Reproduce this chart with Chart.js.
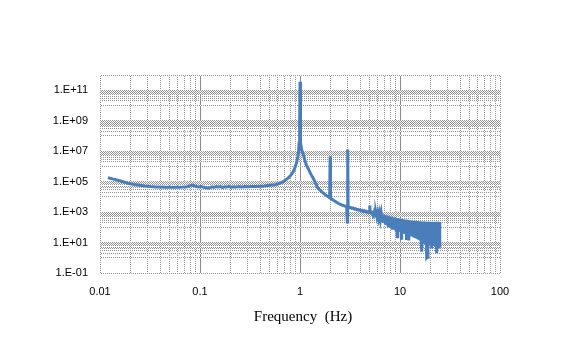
<!DOCTYPE html>
<html lang="en">
<head>
    <meta charset="UTF-8">
    <title>Frequency spectrum</title>
    <script src="https://cdn.jsdelivr.net/npm/chart.js"></script>
    <style>
        body { margin: 0; background: #ffffff; }
    </style>
</head>
<body>
    <canvas id="spectrum" width="577" height="346"></canvas>

    <script>
        // frequency (Hz) and amplitude of each spectrum point
        const freqHz = [
            0.012, 0.014, 0.016, 0.019, 0.022, 0.025, 0.028, 0.032, 0.036, 0.04,
            0.045, 0.05, 0.056, 0.062, 0.068, 0.074, 0.079, 0.083, 0.087, 0.092,
            0.097, 0.102, 0.107, 0.112, 0.117, 0.121, 0.126, 0.132, 0.138, 0.145,
            0.152, 0.16, 0.168, 0.176, 0.185, 0.195, 0.205, 0.215, 0.23, 0.245,
            0.26, 0.28, 0.3, 0.33, 0.36, 0.4, 0.44, 0.5, 0.56, 0.62,
            0.68, 0.72, 0.76, 0.8, 0.84, 0.87, 0.9, 0.93, 0.95, 0.96,
            0.97, 0.98, 0.99, 0.995, 1.0, 1.005, 1.01, 1.02, 1.04, 1.08,
            1.12, 1.16, 1.21, 1.28, 1.36, 1.43, 1.5, 1.6, 1.7, 1.8,
            1.9, 1.98, 2.0, 2.02, 2.2, 2.4, 2.6, 2.8, 2.93, 2.97,
            3.0, 3.03, 3.1, 3.2, 3.3, 3.4, 3.5, 3.6, 3.7, 3.8,
            3.9, 4.0, 4.1, 4.2, 4.3, 4.4, 4.5, 4.6, 4.7, 4.8,
            4.9, 4.97, 5.0, 5.03, 5.1,
            5.25, 5.375, 5.5, 5.625, 5.75, 5.875, 6.0, 6.125, 6.25, 6.375,
            6.5, 6.625, 6.75, 6.875, 7.0, 7.125, 7.25, 7.375, 7.5, 7.625,
            7.75, 7.875, 8.0, 8.125, 8.25, 8.375, 8.5, 8.625, 8.75, 8.875,
            9.0, 9.125, 9.25, 9.375, 9.5, 9.625, 9.75, 9.875, 10.0, 10.125,
            10.25, 10.375, 10.5, 10.625, 10.75, 10.875, 11.0, 11.125, 11.25, 11.375,
            11.5, 11.625, 11.75, 11.875, 12.0,
            12.25, 12.5, 12.75, 13, 13.25, 13.5, 13.75, 14, 14.25, 14.5,
            14.75, 15, 15.25, 15.5, 15.75, 16, 16.25, 16.5, 16.75, 17,
            17.25, 17.5, 17.75, 18, 18.25, 18.5, 18.75, 19, 19.25, 19.5,
            19.75, 20, 20.25, 20.5, 20.75, 21, 21.25, 21.5, 21.75, 22,
            22.25, 22.5, 22.75, 23, 23.25, 23.5, 23.75, 24, 24.25, 24.5,
            24.75, 25
        ];
        const amplitude = [
            1.8e5, 1.4e5, 1.1e5, 7.8e4, 6.5e4, 5.7e4, 5.1e4, 4.7e4, 4.5e4, 4.4e4,
            4.3e4, 4.3e4, 4.2e4, 4.3e4, 4.4e4, 4.6e4, 5.2e4, 6.0e4, 5.5e4, 4.8e4,
            4.5e4, 4.9e4, 4.4e4, 4.1e4, 3.9e4, 3.7e4, 4.0e4, 4.6e4, 4.2e4, 4.8e4,
            4.4e4, 4.7e4, 4.2e4, 4.6e4, 4.4e4, 4.9e4, 4.3e4, 4.6e4, 4.5e4, 4.8e4,
            4.5e4, 4.7e4, 4.6e4, 4.8e4, 4.7e4, 4.9e4, 5.1e4, 5.8e4, 6.3e4, 7.5e4,
            1.0e5, 1.3e5, 1.7e5, 2.4e5, 3.6e5, 5.5e5, 1.0e6, 2.0e6, 4.5e6, 8e6,
            1.5e7, 3.5e7, 1.5e8, 8e8, 3.6e11, 8e8, 1.5e8, 3.5e7, 1.2e7, 6e6,
            2.4e6, 1.2e6, 7e5, 3.2e5, 1.6e5, 8e4, 4e4, 2.6e4, 1.8e4, 1.35e4,
            1.05e4, 8.6e3, 4.6e6, 8.2e3, 5.5e3, 3.8e3, 3.0e3, 2.5e3, 2.3e3, 2.2e2,
            1.3e7, 2.0e3, 1.9e3, 2.05e3, 1.75e3, 1.85e3, 1.55e3, 1.65e3, 1.4e3, 1.5e3,
            1.3e3, 1.4e3, 1.2e3, 1.3e3, 1.1e3, 1.22e3, 1.05e3, 1.12e3, 980, 1.05e3,
            950, 1.0e3, 2.7e3, 950, 1.05e3,
            1000, 620, 980, 560, 930, 470, 880, 400, 820, 330,
            760, 260, 700, 200, 640, 160, 600, 140, 560, 120,
            530, 105, 500, 95, 480, 88, 460, 82, 440, 76,
            420, 70, 410, 24, 400, 62, 380, 55, 360, 50,
            350, 15, 340, 45, 330, 42, 320, 38, 315, 36,
            310, 15, 305, 33, 300,
            14, 290, 28, 280, 25, 270, 22, 265, 20, 260,
            18, 255, 16, 250, 14, 245, 12, 2.5, 240, 11,
            240, 10, 235, 9, 235, 1.0, 1.1, 235, 9, 232,
            8, 232, 7, 230, 4, 230, 7, 230, 6, 228,
            6, 228, 5, 228, 2, 228, 5, 226, 4, 226,
            6, 225
        ];

        // labelled ticks
        const xTickValues = [0.01, 0.1, 1, 10, 100];
        const xTickLabels = ['0.01', '0.1', '1', '10', '100'];
        const yTickValues = [0.1, 10, 1e3, 1e5, 1e7, 1e9, 1e11];
        const yTickLabels = ['1.E-01', '1.E+01', '1.E+03', '1.E+05', '1.E+07', '1.E+09', '1.E+11'];

        // x grid: every 1..9 step of each decade
        const xGrid = [];
        for (let e = -2; e <= 1; e++) {
            for (let k = 1; k <= 9; k++) xGrid.push(k * Math.pow(10, e));
        }
        xGrid.push(100);

        // y grid: labelled decades, plus 1..9 steps in the decades starting on an even power
        const yGrid = yTickValues.slice();
        for (let e = 0; e <= 10; e += 2) {
            for (let k = 1; k <= 9; k++) yGrid.push(k * Math.pow(10, e));
        }
        yGrid.push(1e12);
        yGrid.sort((a, b) => a - b);

        const same = (a, b) => Math.abs(Math.log10(a) - Math.log10(b)) < 1e-6;
        const findLabel = (v, values, labels) => {
            const i = values.findIndex(t => same(t, v));
            return i >= 0 ? labels[i] : '';
        };

        const canvas = document.getElementById('spectrum');
        const ctx = canvas.getContext('2d');

        // dotted grey used for the grid lines
        const dotCanvas = document.createElement('canvas');
        dotCanvas.width = 2;
        dotCanvas.height = 2;
        const dctx = dotCanvas.getContext('2d');
        dctx.fillStyle = '#ffffff';
        dctx.fillRect(0, 0, 2, 2);
        dctx.fillStyle = '#939393';
        dctx.fillRect(0, 0, 1, 1);
        dctx.fillRect(1, 1, 1, 1);
        const dotted = ctx.createPattern(dotCanvas, 'repeat');

        const axisTitle = {
            id: 'axisTitle',
            afterDraw(chart) {
                const c = chart.ctx;
                c.save();
                c.font = '15px "Liberation Serif", "Times New Roman", serif';
                c.fillStyle = '#000000';
                c.textAlign = 'center';
                c.textBaseline = 'alphabetic';
                c.fillText('Frequency  (Hz)', 303, 321);
                c.restore();
            }
        };

        new Chart(ctx, {
            type: 'line',
            data: {
                datasets: [{
                    data: freqHz.map((f, i) => ({ x: f, y: amplitude[i] })),
                    borderColor: '#4a7ebb',
                    borderWidth: 3,
                    pointRadius: 0,
                    tension: 0,
                    fill: false
                }]
            },
            options: {
                responsive: false,
                animation: false,
                layout: { padding: { top: 75, right: 77, bottom: 0, left: 0 } },
                plugins: {
                    legend: { display: false },
                    tooltip: { enabled: false }
                },
                scales: {
                    x: {
                        type: 'logarithmic',
                        min: 0.01,
                        max: 100,
                        afterBuildTicks: scale => { scale.ticks = xGrid.map(v => ({ value: v })); },
                        afterFit: scale => { scale.height = 73; },
                        border: { display: false },
                        grid: {
                            drawTicks: false,
                            lineWidth: 1,
                            color: c => {
                                const v = c.tick ? c.tick.value : 0;
                                return [0.1, 1, 10].some(t => same(t, v)) ? '#8a8a8a' : dotted;
                            }
                        },
                        ticks: {
                            autoSkip: false,
                            maxRotation: 0,
                            padding: 12,
                            color: '#000000',
                            font: { family: '"Liberation Sans", Arial, sans-serif', size: 11 },
                            callback: v => findLabel(v, xTickValues, xTickLabels)
                        }
                    },
                    y: {
                        type: 'logarithmic',
                        min: 0.1,
                        max: 1e12,
                        afterBuildTicks: scale => { scale.ticks = yGrid.map(v => ({ value: v })); },
                        afterFit: scale => { scale.width = 100; },
                        border: { display: false },
                        grid: {
                            drawTicks: false,
                            lineWidth: 1,
                            color: dotted
                        },
                        ticks: {
                            autoSkip: false,
                            padding: 12,
                            color: '#000000',
                            font: { family: '"Liberation Sans", Arial, sans-serif', size: 11 },
                            callback: v => findLabel(v, yTickValues, yTickLabels)
                        }
                    }
                }
            },
            plugins: [axisTitle]
        });
    </script>
</body>
</html>
